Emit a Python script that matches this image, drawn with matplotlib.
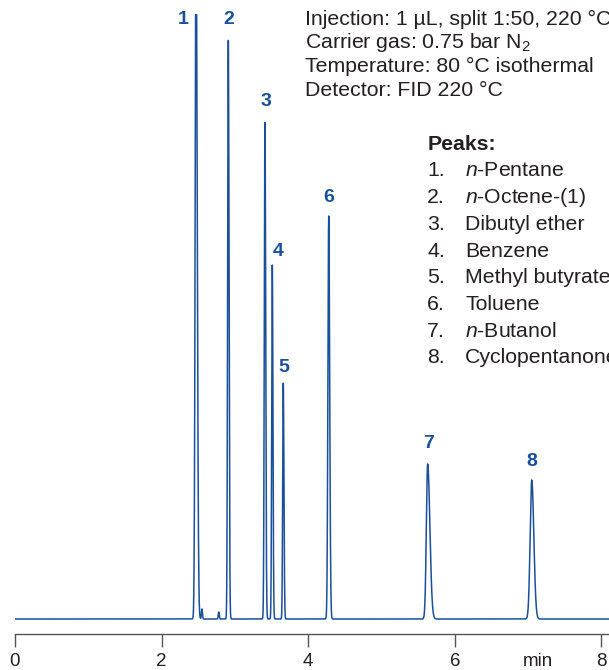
import numpy as np
import matplotlib
matplotlib.use('Agg')
import matplotlib.pyplot as plt

# --- peak table (time in min, height in px-like units) ---
peak_no = [1, 2, 3, 4, 5, 6, 7, 8]
ret_time = [2.47, 2.91, 3.41, 3.51, 3.66, 4.28, 5.63, 7.05]
height = [700, 579, 497, 354, 236, 403, 155, 139]
sigma_left = [0.012, 0.009, 0.009, 0.008, 0.008, 0.011, 0.018, 0.022]
sigma_right = [0.016, 0.010, 0.010, 0.009, 0.009, 0.013, 0.030, 0.028]

# small impurity peaks
minor_time = [2.55, 2.78]
minor_height = [10, 7]

# info text
cond_lines = ["Injection: 1 µL, split 1:50, 220 °C",
              "Carrier gas: 0.75 bar N$_2$",
              "Temperature: 80 °C isothermal",
              "Detector: FID 220 °C"]
peak_names = ["$n$-Pentane", "$n$-Octene-(1)", "Dibutyl ether", "Benzene",
              "Methyl butyrate", "Toluene", "$n$-Butanol", "Cyclopentanone"]
x_ticks = [0, 2, 4, 6, 8]
unit_pos = 7.14

BLUE = '#1a4f9a'
GREY = '#231f20'
plt.rcParams['font.family'] = ['Liberation Sans', 'DejaVu Sans']
plt.rcParams['mathtext.fontset'] = 'custom'
plt.rcParams['mathtext.rm'] = 'Liberation Sans'
plt.rcParams['mathtext.it'] = 'Liberation Sans:italic'

# build trace
t = np.linspace(0, 8.2, 8000)
y = np.zeros_like(t)
for rt, h, sl, sr in zip(ret_time, height, sigma_left, sigma_right):
    s = np.where(t < rt, sl, sr)
    y += h * np.exp(-0.5 * ((t - rt) / s) ** 2)
for rt, h in zip(minor_time, minor_height):
    y += h * np.exp(-0.5 * ((t - rt) / 0.007) ** 2)

fig = plt.figure(figsize=(6.09, 6.70), dpi=100)
W, H = 609, 670
ax = fig.add_axes([15 / W, 36 / H, 594 / W, 620 / H])
ax.plot(t, y, color=BLUE, lw=1.1)
ax.set_xlim(0, 594 / 73.3)
ax.set_ylim(-15, 605)

for s in ['top', 'right', 'left']:
    ax.spines[s].set_visible(False)
ax.spines['bottom'].set_color('#555555')
ax.spines['bottom'].set_linewidth(1.0)
ax.set_yticks([])
ax.set_xticks(x_ticks)
ax.set_xticklabels([str(v) for v in x_ticks])
ax.set_xticks([unit_pos], labels=["min"], minor=True)
ax.tick_params(axis='x', which='major', direction='out', length=9.4, width=1.0,
               color='#555555', labelsize=13.5, labelcolor=GREY, pad=4.5)
ax.tick_params(axis='x', which='minor', length=0, labelsize=13.5, labelcolor=GREY,
               pad=4.5 + 9.4)

# peak numbers (offset in min, offset above apex)
lab_dx = [-0.18, 0.01, 0.01, 0.08, 0.01, 0.0, 0.01, 0.0]
lab_dy = [None, 20, 20, 14, 16, 18, 20, 19]
for n, rt, h, dx, dy in zip(peak_no, ret_time, height, lab_dx, lab_dy):
    yy = 599 if dy is None else h + dy
    ax.text(rt + dx, yy, str(n), ha='center', va='center', fontsize=14,
            fontweight='bold', color=BLUE, clip_on=False)

# conditions
for i, line in enumerate(cond_lines):
    fig.text(305 / W, 1 - (19 + 23.8 * i) / H, line, ha='left', va='center',
             fontsize=15.3, color=GREY)

# peak list
fig.text(428 / W, 1 - 145 / H, "Peaks:", ha='left', va='center', fontsize=15.3,
         fontweight='bold', color=GREY)
for i, name in enumerate(peak_names):
    yy = 1 - (171 + 26.7 * i) / H
    fig.text(427 / W, yy, f"{i + 1}.", ha='left', va='center', fontsize=15.3, color=GREY)
    fig.text(465 / W, yy, name, ha='left', va='center', fontsize=15.3, color=GREY)

fig.savefig('out.png', dpi=100)
